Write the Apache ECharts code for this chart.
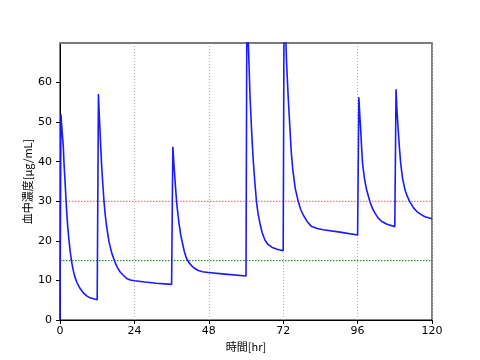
<!DOCTYPE html>
<html><head><meta charset="utf-8">
<script src="https://cdn.jsdelivr.net/npm/echarts@6/dist/echarts.min.js"></script>
<style>html,body{margin:0;padding:0;background:#fff}#c{width:480px;height:360px}</style>
</head><body><div id="c"></div>
<script>
var times = [0,0.3,0.6,1.07,1.3,1.6,1.9,2.15,2.5,2.9,3.3,3.76,4.2,4.8,5.5,6.45,7.5,8.6,9.7,10.8,12.0,
  12.4,12.6,12.9,13.15,13.4,13.8,14.2,14.6,15.05,15.8,16.7,17.7,18.5,19.35,20.4,21.5,22.7,24,27.4,31,36,
  36.4,36.7,37.1,37.6,38.0,38.4,38.9,39.5,40.1,40.8,41.6,42.5,43.5,44.6,46,47.8,53.2,60,
  60.3,60.75,61.3,61.8,62.1,62.4,62.9,63.4,63.9,64.5,65.2,66.1,67.1,68.3,70,72,
  72.3,72.7,73.1,73.6,74.2,74.6,75.1,75.9,76.9,77.7,78.5,79.7,81.2,83,84.9,90.3,96,
  96.4,96.7,97,97.3,97.6,98.2,98.9,100,100.8,101.6,102.6,103.8,105.5,108,
  108.4,108.7,109.1,109.5,109.9,110.5,111.3,112.1,112.9,114,115.1,116.4,117.7,120];
var conc = [0,52,48.5,43.8,39.5,35.4,31,27.5,23.5,20.2,17.2,14.7,12.8,10.9,9.4,8,6.9,6.1,5.6,5.35,5.1,
  57.1,53,48,43.5,39.6,34.5,29.9,26.5,23.6,19.8,16.9,14.7,13.3,12.2,11.3,10.5,10.1,9.9,9.6,9.3,9.0,
  43.8,40,35.4,29.9,27,24.4,21.7,19.4,17.3,15.6,14.5,13.7,13.0,12.5,12.2,12.0,11.6,11.1,
  82,70,56.5,48,43.5,39.6,34.3,29.8,26.8,24.4,22.1,20.2,19.1,18.4,17.9,17.5,
  84,74,64.9,56.5,48,42.5,37.9,33.2,29.8,27.8,26.5,24.9,23.6,23.1,22.8,22.2,21.5,
  56.3,52,48,43.5,39.6,35.8,32.9,29.8,28.2,27,25.8,24.9,24.2,23.6,
  58.3,53,48,43.5,39.6,35.8,32.9,31.1,29.8,28.4,27.4,26.7,26.1,25.6];
var xTicks = [0,24,48,72,96,120];
var yTicks = [0,10,20,30,40,50,60];
var upperLimit = 30;
var lowerLimit = 15;
var xRange = [0,120];

var data = times.map(function(t,i){return [t,conc[i]];});
var chart = echarts.init(document.getElementById('c'));
var lbl = {color:'#000', fontSize:11, fontFamily:'DejaVu Sans'};
function hline(v,color){
  return {type:'line',data:xRange.map(function(x){return [x,v];}),showSymbol:false,symbol:'none',
    silent:true,z:1,lineStyle:{color:color,type:[1.5,1.5],width:1}};
}
chart.setOption({
  animation:false,
  grid:{left:60,right:48,top:43,bottom:40,show:true,borderColor:'#000',borderWidth:1,backgroundColor:'transparent'},
  xAxis:[{
    type:'value',min:0,max:120,interval:24,
    name:'時間[hr]',nameLocation:'middle',nameGap:21,nameMoveOverlap:false,
    nameTextStyle:{color:'#000',fontSize:11,fontFamily:'Noto Sans CJK JP'},
    axisLine:{show:true,onZero:false,lineStyle:{color:'#000',width:1}},
    axisTick:{show:true,inside:false,length:4,lineStyle:{color:'#000'}},
    axisLabel:Object.assign({margin:6},lbl),
    splitLine:{show:true,lineStyle:{color:'#b0b0b0',type:[1,2],width:1}}
  },{
    type:'value',min:0,max:120,position:'top',show:true,
    axisLine:{show:true,onZero:false,lineStyle:{color:'#7a7a7a',width:2}},
    axisTick:{show:false},axisLabel:{show:false},splitLine:{show:false}
  }],
  yAxis:[{
    type:'value',min:0,max:70,interval:10,
    name:'血中濃度[μg/mL]',nameLocation:'middle',nameGap:27,nameMoveOverlap:false,
    nameTextStyle:{color:'#000',fontSize:11,fontFamily:'Noto Sans CJK JP'},
    axisLine:{show:true,onZero:false,lineStyle:{color:'#000',width:1}},
    axisTick:{show:true,length:4,lineStyle:{color:'#000'},customValues:yTicks},
    axisLabel:Object.assign({margin:8,customValues:yTicks},lbl),
    splitLine:{show:false}
  }],
  series:[
    hline(upperLimit,'#ff5050'),
    hline(lowerLimit,'#007a00'),
    {
    type:'line',data:data,showSymbol:false,symbol:'none',clip:true,z:3,
    lineStyle:{color:'#1a1aff',width:1.6}
  }]
});
</script></body></html>
